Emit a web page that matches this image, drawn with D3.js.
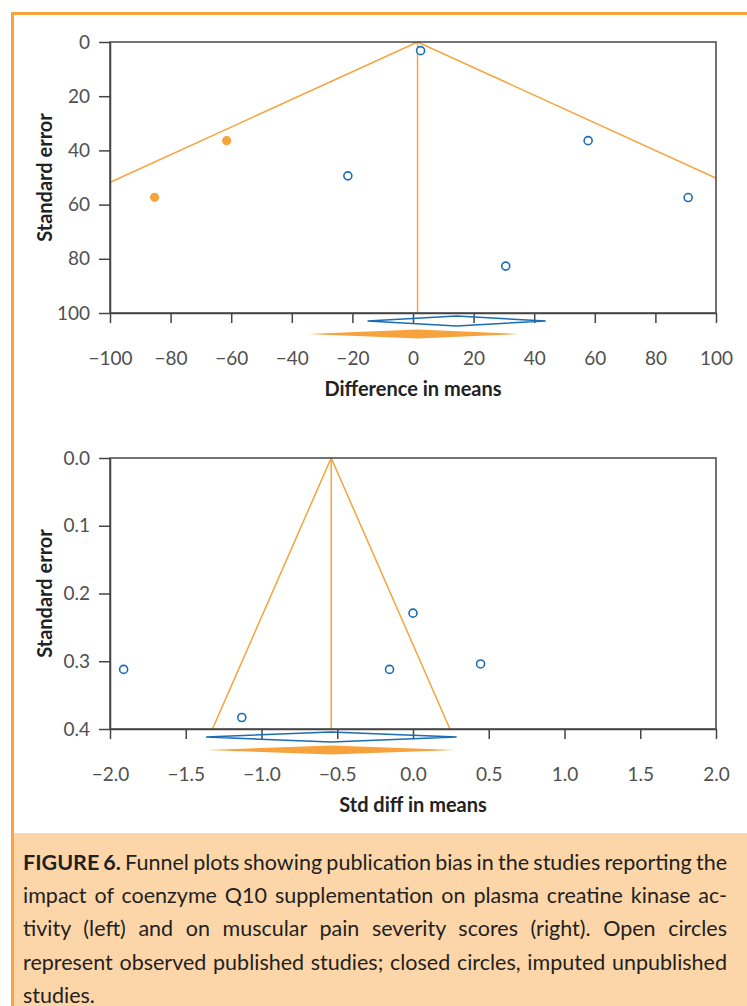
<!DOCTYPE html>
<html>
<head>
<meta charset="utf-8">
<script src="https://cdn.jsdelivr.net/npm/d3@7"></script>
<style>
  body { margin: 0; width: 747px; height: 1006px; position: relative; overflow: hidden; background: #fff; }
  svg { position: absolute; left: 0; top: 0; }
  #caption {
    position: absolute; left: 14px; top: 833px; width: 733px; height: 173px;
    background: #fcd6a9; font-family: Lato, "Open Sans", sans-serif; font-size: 21.5px; color: #231f20;
  }
  #caption .line { position: absolute; left: 9px; white-space: nowrap; line-height: 20px; }
</style>
</head>
<body>
<svg id="chart" width="747" height="1006"></svg>
<div id="caption"></div>
<script>
// ---- data ----
// top panel: plasma creatine kinase, difference in means
var ckObserved = [
  {x: 2.5, se: 3.2},
  {x: -21.5, se: 49.4},
  {x: 57.8, se: 36.4},
  {x: 90.8, se: 57.4},
  {x: 30.6, se: 82.7}
];
var ckImputed = [
  {x: -85.3, se: 57.3},
  {x: -61.5, se: 36.4}
];
var ckMean = 1.5;
var ckDiamondObserved = {lo: -15.0, mid: 14.4, hi: 43.8};
var ckDiamondAdjusted = {lo: -34.7, mid: 1.5, hi: 35.2};
var ckXTicks = [-100, -80, -60, -40, -20, 0, 20, 40, 60, 80, 100];
var ckYTicks = [0, 20, 40, 60, 80, 100];

// bottom panel: muscular pain, std diff in means
var painObserved = [
  {x: -1.91, se: 0.312},
  {x: -1.13, se: 0.383},
  {x: -0.155, se: 0.312},
  {x: 0.0, se: 0.229},
  {x: 0.446, se: 0.304}
];
var painImputed = [];
var painMean = -0.54;
var painDiamondObserved = {lo: -1.366, mid: -0.54, hi: 0.288};
var painDiamondAdjusted = {lo: -1.36, mid: -0.54, hi: 0.282};
var painXTicks = [-2.0, -1.5, -1.0, -0.5, 0.0, 0.5, 1.0, 1.5, 2.0];
var painYTicks = [0.0, 0.1, 0.2, 0.3, 0.4];

var captionLines = [
  ["FIGURE 6.", " Funnel plots showing publication bias in the studies reporting the"],
  ["", "impact of coenzyme Q10 supplementation on plasma creatine kinase ac-"],
  ["", "tivity (left) and on muscular pain severity scores (right). Open circles"],
  ["", "represent observed published studies; closed circles, imputed unpublished"],
  ["", "studies."]
];

var orange = "#f7a33d";
var blue = "#1a6cb5";
var axisColor = "#454545";
var font = "Lato, 'Open Sans', sans-serif";

var svg = d3.select("#chart");

// orange frame (left and top edges)
svg.append("line").attr("x1", 12.5).attr("x2", 12.5).attr("y1", 12).attr("y2", 1006)
  .attr("stroke", "#f9a43e").attr("stroke-width", 3);
svg.append("line").attr("x1", 11).attr("x2", 747).attr("y1", 13.5).attr("y2", 13.5)
  .attr("stroke", "#f9a43e").attr("stroke-width", 3);

function funnelPlot(opt) {
  var left = 110, right = 716, top = opt.top, bottom = opt.top + 271;
  var x = d3.scaleLinear().domain(opt.xDomain).range([left, right]);
  var y = d3.scaleLinear().domain(opt.yDomain).range([top, bottom]);
  var seMax = opt.yDomain[1];

  var g = svg.append("g");
  var clipId = "clip" + opt.top;
  g.append("clipPath").attr("id", clipId)
    .append("rect").attr("x", left).attr("y", top).attr("width", right - left).attr("height", bottom - top);

  // funnel
  var funnel = g.append("g").attr("clip-path", "url(#" + clipId + ")");
  funnel.append("path")
    .attr("d", d3.line()([
      [x(opt.mean - 1.96 * seMax), y(seMax)],
      [x(opt.mean), y(0)],
      [x(opt.mean + 1.96 * seMax), y(seMax)]
    ]))
    .attr("fill", "none").attr("stroke", orange).attr("stroke-width", 1.5);
  funnel.append("line")
    .attr("x1", x(opt.mean)).attr("x2", x(opt.mean))
    .attr("y1", y(0)).attr("y2", y(seMax))
    .attr("stroke", orange).attr("stroke-width", 1.5);

  // frame
  g.append("rect").attr("x", left).attr("y", top).attr("width", right - left).attr("height", bottom - top)
    .attr("fill", "none").attr("stroke", axisColor).attr("stroke-width", 1.5);

  var xAxis = g.append("g")
    .attr("transform", "translate(0," + bottom + ")")
    .call(d3.axisBottom(x).tickValues(opt.xTicks).tickFormat(d3.format(opt.fmt))
      .tickSize(10).tickSizeOuter(0).tickPadding(29));
  var yAxis = g.append("g")
    .attr("transform", "translate(" + left + ",0)")
    .call(d3.axisLeft(y).tickValues(opt.yTicks).tickFormat(d3.format(opt.fmt))
      .tickSize(11).tickSizeOuter(0).tickPadding(9));
  [xAxis, yAxis].forEach(function(a) {
    a.select(".domain").attr("stroke", axisColor).attr("stroke-width", 1.5);
    a.selectAll(".tick line").attr("stroke", axisColor).attr("stroke-width", 1.5);
    a.selectAll(".tick text").attr("fill", "#505050")
      .style("font-family", font).style("font-size", "19px");
  });

  // summary diamonds below the axis
  function diamond(d, cy, h) {
    return d3.line()([[x(d.lo), cy], [x(d.mid), cy - h], [x(d.hi), cy], [x(d.mid), cy + h]]) + "Z";
  }
  g.append("path").attr("d", diamond(opt.diamondObserved, bottom + 8, 5))
    .attr("fill", "none").attr("stroke", blue).attr("stroke-width", 1.5);
  g.append("path").attr("d", diamond(opt.diamondAdjusted, bottom + 21, 4.5))
    .attr("fill", orange);

  // studies
  g.selectAll("circle.obs").data(opt.observed).enter().append("circle")
    .attr("class", "obs")
    .attr("cx", function(d) { return x(d.x); })
    .attr("cy", function(d) { return y(d.se); })
    .attr("r", 4).attr("fill", "#fff").attr("stroke", blue).attr("stroke-width", 1.6);
  g.selectAll("circle.imp").data(opt.imputed).enter().append("circle")
    .attr("class", "imp")
    .attr("cx", function(d) { return x(d.x); })
    .attr("cy", function(d) { return y(d.se); })
    .attr("r", 4.6).attr("fill", orange);

  // axis titles
  g.append("text").attr("x", (left + right) / 2).attr("y", bottom + 83)
    .attr("text-anchor", "middle").attr("fill", "#222")
    .style("font-family", font).style("font-size", "20px").style("font-weight", "bold")
    .text(opt.xLabel);
  g.append("text")
    .attr("transform", "translate(52," + (top + bottom) / 2 + ") rotate(-90)")
    .attr("text-anchor", "middle").attr("fill", "#222")
    .style("font-family", font).style("font-size", "20px").style("font-weight", "bold")
    .text("Standard error");
}

funnelPlot({
  top: 42, xDomain: [-100, 100], yDomain: [0, 100], fmt: "d",
  xTicks: ckXTicks, yTicks: ckYTicks, mean: ckMean,
  observed: ckObserved, imputed: ckImputed,
  diamondObserved: ckDiamondObserved, diamondAdjusted: ckDiamondAdjusted,
  xLabel: "Difference in means"
});

funnelPlot({
  top: 458, xDomain: [-2, 2], yDomain: [0, 0.4], fmt: ".1f",
  xTicks: painXTicks, yTicks: painYTicks, mean: painMean,
  observed: painObserved, imputed: painImputed,
  diamondObserved: painDiamondObserved, diamondAdjusted: painDiamondAdjusted,
  xLabel: "Std diff in means"
});

// caption, each line justified to the same width
var cap = d3.select("#caption");
var lineWidth = 704;
captionLines.forEach(function(l, i) {
  var div = cap.append("div").attr("class", "line").style("top", (19 + i * 33.2) + "px");
  if (l[0]) div.append("b").text(l[0]);
  div.append("span").text(l[1]);
  if (i < captionLines.length - 1) {
    var w = div.node().getBoundingClientRect().width;
    var spaces = (l[0] + l[1]).split(" ").length - 1;
    div.style("word-spacing", ((lineWidth - w) / spaces) + "px");
  }
});
</script>
</body>
</html>
